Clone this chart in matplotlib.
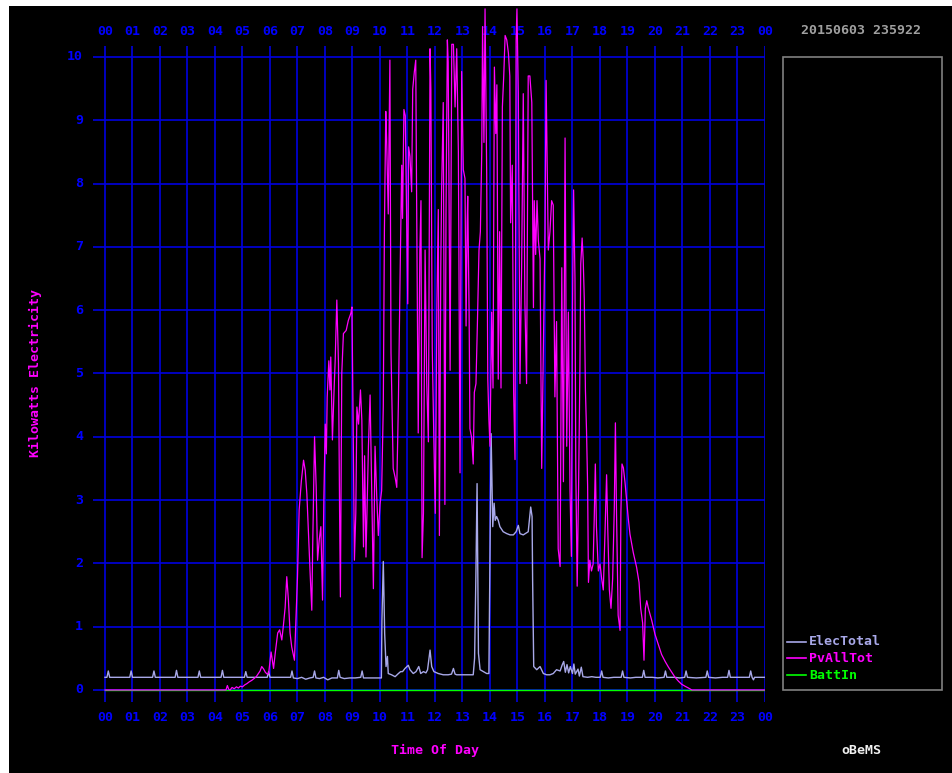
import matplotlib
matplotlib.use("Agg")
import matplotlib.pyplot as plt
from matplotlib.lines import Line2D
from matplotlib.patches import Rectangle

# ---------------- data ----------------
hour_labels = ["00", "01", "02", "03", "04", "05", "06", "07", "08", "09", "10", "11",
               "12", "13", "14", "15", "16", "17", "18", "19", "20", "21", "22", "23", "00"]
y_ticks = [0, 1, 2, 3, 4, 5, 6, 7, 8, 9, 10]

pv_t = [0.00, 4.40, 4.45, 4.50, 4.55, 4.62, 4.70, 4.78, 4.85, 4.92, 5.00, 5.08, 5.16, 5.25,
        5.33, 5.42, 5.50, 5.58, 5.64, 5.70, 5.77, 5.83, 5.90, 5.95, 6.04, 6.09, 6.13, 6.19,
        6.28, 6.35, 6.43, 6.49, 6.55, 6.61, 6.67, 6.73, 6.79, 6.89, 6.95, 7.00, 7.06, 7.14,
        7.22, 7.28, 7.34, 7.40, 7.46, 7.52, 7.55, 7.62, 7.68, 7.73, 7.79, 7.85, 7.91, 7.96,
        8.01, 8.05, 8.08, 8.14, 8.18, 8.21, 8.27, 8.33, 8.37, 8.43, 8.49, 8.53, 8.56, 8.61,
        8.67, 8.77, 8.85, 8.94, 8.98, 9.02, 9.07, 9.12, 9.16, 9.22, 9.29, 9.34, 9.40, 9.44,
        9.49, 9.58, 9.64, 9.70, 9.76, 9.82, 9.88, 9.94, 10.00, 10.06, 10.12, 10.16, 10.21,
        10.24, 10.30, 10.36, 10.40, 10.45, 10.48, 10.55, 10.61, 10.67, 10.73, 10.79, 10.82,
        10.87, 10.92, 10.97, 11.01, 11.04, 11.09, 11.15, 11.19, 11.25, 11.30, 11.33, 11.39,
        11.45, 11.49, 11.53, 11.58, 11.64, 11.70, 11.76, 11.82, 11.85, 11.90, 11.96, 12.01,
        12.07, 12.12, 12.16, 12.21, 12.24, 12.30, 12.36, 12.40, 12.45, 12.48, 12.55, 12.61,
        12.67, 12.73, 12.79, 12.85, 12.91, 12.97, 13.03, 13.09, 13.13, 13.17, 13.19, 13.24,
        13.27, 13.33, 13.39, 13.43, 13.49, 13.54, 13.60, 13.65, 13.70, 13.73, 13.78, 13.82,
        13.88, 13.92, 13.96, 14.00, 14.06, 14.11, 14.16, 14.21, 14.25, 14.30, 14.35, 14.40,
        14.45, 14.50, 14.55, 14.61, 14.67, 14.72, 14.75, 14.81, 14.86, 14.91, 14.95, 14.98,
        15.03, 15.09, 15.15, 15.21, 15.27, 15.33, 15.39, 15.45, 15.52, 15.58, 15.61, 15.66,
        15.71, 15.76, 15.82, 15.88, 15.94, 16.00, 16.04, 16.07, 16.12, 16.18, 16.24, 16.30,
        16.36, 16.42, 16.48, 16.55, 16.61, 16.67, 16.73, 16.79, 16.85, 16.91, 16.96, 17.00,
        17.04, 17.09, 17.12, 17.17, 17.22, 17.27, 17.30, 17.35, 17.39, 17.43, 17.47, 17.51,
        17.55, 17.58, 17.63, 17.69, 17.75, 17.79, 17.83, 17.87, 17.94, 18.00, 18.06, 18.12,
        18.18, 18.24, 18.28, 18.34, 18.40, 18.46, 18.52, 18.56, 18.60, 18.66, 18.73, 18.76,
        18.80, 18.85, 18.91, 18.97, 19.03, 19.09, 19.21, 19.33, 19.42, 19.48, 19.55, 19.60,
        19.65, 19.70, 19.76, 19.88, 20.00, 20.12, 20.24, 20.37, 20.49, 20.61, 20.73, 20.85,
        20.97, 21.09, 21.22, 21.34, 24.00]
pv_v = [0.00, 0.00, 0.07, 0.01, 0.00, 0.04, 0.02, 0.05, 0.03, 0.06, 0.05, 0.08, 0.10, 0.13,
        0.15, 0.18, 0.21, 0.26, 0.30, 0.37, 0.33, 0.28, 0.25, 0.26, 0.60, 0.45, 0.34, 0.58,
        0.90, 0.95, 0.79, 1.03, 1.30, 1.79, 1.42, 0.90, 0.68, 0.47, 1.18, 1.79, 2.84, 3.30,
        3.63, 3.47, 3.10, 2.47, 1.84, 1.26, 2.20, 4.00, 3.20, 2.05, 2.37, 2.58, 1.42, 3.05,
        4.20, 3.73, 4.63, 5.20, 4.74, 5.26, 3.95, 4.74, 5.20, 6.16, 5.16, 2.84, 1.47, 5.00,
        5.63, 5.68, 5.84, 5.95, 6.05, 4.37, 2.05, 2.79, 4.47, 4.20, 4.74, 4.26, 2.26, 3.70,
        2.10, 3.85, 4.66, 3.15, 1.60, 3.85, 3.07, 2.44, 2.93, 3.15, 4.48, 7.24, 9.14,
        8.72, 7.52, 9.95, 5.33, 4.13, 3.50, 3.36, 3.20, 4.56, 6.53, 8.29, 7.45,
        9.17, 9.07, 7.45, 6.10, 8.58, 8.43, 7.87, 9.49, 9.77, 9.95, 7.87, 4.06,
        6.95, 7.73, 2.09, 2.79, 6.95, 4.84, 3.92, 10.13, 9.49, 5.40, 3.92, 2.79,
        6.10, 7.59, 2.44, 6.67, 7.87, 9.28, 2.93, 7.52, 10.27, 9.92, 5.05, 10.20,
        10.20, 9.21, 10.13, 8.50, 3.43, 9.77, 8.22, 8.08, 5.75, 7.40, 7.80, 5.97,
        4.13, 3.99, 3.57, 4.70, 4.84, 5.75, 6.95, 7.24, 8.50, 10.48, 8.65, 10.76,
        8.15, 4.91, 4.27, 3.85, 5.97, 4.77, 9.84, 8.79, 9.56, 4.91, 7.24, 4.77,
        9.21, 9.70, 10.34, 10.27, 10.06, 9.70, 7.38, 8.29, 4.70, 3.64, 10.27, 10.76,
        9.42, 4.84, 6.67, 9.42, 6.10, 4.84, 9.70, 9.70, 9.28, 6.04, 7.73, 6.88,
        7.73, 7.09, 6.81, 3.50, 5.33, 7.24, 9.63, 8.58, 6.95, 7.24, 7.73, 7.66,
        4.63, 5.82, 2.23, 1.95, 6.67, 3.29, 8.72, 3.85, 5.97, 3.15, 2.11, 6.03,
        7.90, 6.50, 3.51, 1.64, 3.16, 5.09, 6.73, 7.14, 6.79, 6.15, 4.74, 4.10,
        3.22, 1.70, 2.05, 1.88, 1.99, 2.70, 3.57, 2.58, 1.88, 1.99, 1.76, 1.58,
        2.46, 3.40, 2.58, 1.58, 1.29, 1.76, 2.87, 4.22, 2.81, 1.18, 0.94, 2.81,
        3.57, 3.51, 3.28, 2.99, 2.70, 2.46, 2.17, 1.94, 1.70, 1.29, 1.06, 0.47,
        1.29, 1.41, 1.29, 1.10, 0.88, 0.72, 0.56, 0.45, 0.36, 0.28, 0.20, 0.14,
        0.09, 0.06, 0.03, 0.00, 0.00]

elec_t = [0.00, 0.07, 0.12, 0.17, 0.90, 0.95, 1.00, 1.73, 1.78, 1.83, 2.55, 2.60, 2.65,
          3.38, 3.43, 3.48, 4.22, 4.27, 4.32, 5.07, 5.12, 5.17, 5.90, 5.95, 6.00, 6.75,
          6.80, 6.85, 7.00, 7.15, 7.30, 7.45, 7.57, 7.62, 7.67, 7.80, 7.95, 8.10, 8.25,
          8.45, 8.50, 8.55, 8.70, 8.90, 9.10, 9.30, 9.35, 9.40, 10.05, 10.07, 10.12, 10.17,
          10.22, 10.27, 10.30, 10.42, 10.55, 10.67, 10.75, 10.82, 10.91, 11.03, 11.09,
          11.21, 11.31, 11.41, 11.48, 11.58, 11.67, 11.73, 11.82, 11.88, 11.96, 12.12,
          12.30, 12.48, 12.60, 12.67, 12.73, 12.79, 13.15, 13.39, 13.44, 13.49, 13.53,
          13.58, 13.64, 13.76, 13.88, 13.96, 14.00, 14.04, 14.07, 14.10, 14.15, 14.19,
          14.24, 14.30, 14.36, 14.48, 14.61, 14.73, 14.85, 14.95, 15.03, 15.09, 15.21,
          15.39, 15.48, 15.53, 15.55, 15.59, 15.70, 15.82, 15.94, 16.06, 16.18, 16.30,
          16.42, 16.55, 16.62, 16.68, 16.74, 16.80, 16.86, 16.92, 17.00, 17.05, 17.10,
          17.20, 17.25, 17.32, 17.38, 17.55, 17.70, 17.85, 18.01, 18.06, 18.11, 18.30,
          18.50, 18.77, 18.82, 18.87, 19.10, 19.30, 19.54, 19.59, 19.64, 19.90, 20.10,
          20.33, 20.38, 20.43, 20.70, 20.90, 21.08, 21.13, 21.18, 21.50, 21.85, 21.90,
          21.95, 22.20, 22.45, 22.64, 22.69, 22.74, 23.05, 23.30, 23.43, 23.48, 23.53,
          23.58, 23.62, 24.00]
elec_v = [0.20, 0.20, 0.30, 0.20, 0.20, 0.30, 0.20, 0.20, 0.30, 0.20, 0.20, 0.31, 0.20,
          0.20, 0.30, 0.20, 0.20, 0.31, 0.20, 0.20, 0.29, 0.20, 0.20, 0.29, 0.20, 0.20,
          0.30, 0.19, 0.18, 0.20, 0.17, 0.19, 0.20, 0.30, 0.19, 0.18, 0.20, 0.16, 0.19,
          0.19, 0.31, 0.20, 0.18, 0.19, 0.19, 0.20, 0.30, 0.19, 0.19, 1.10, 2.03, 0.89,
          0.37, 0.53, 0.26, 0.24, 0.21, 0.26, 0.29, 0.29, 0.34, 0.39, 0.32,
          0.26, 0.29, 0.37, 0.26, 0.29, 0.27, 0.32, 0.63, 0.37, 0.29, 0.26,
          0.24, 0.24, 0.25, 0.34, 0.25, 0.24, 0.24, 0.24, 0.50, 1.89, 3.26,
          0.58, 0.32, 0.29, 0.26, 0.26, 2.16, 4.05, 3.32, 2.58, 2.95, 2.68,
          2.74, 2.68, 2.58, 2.50, 2.47, 2.45, 2.45, 2.50, 2.60, 2.47, 2.45,
          2.50, 2.89, 2.74, 1.74, 0.37, 0.32, 0.37, 0.26, 0.24, 0.24, 0.26,
          0.32, 0.30, 0.39, 0.45, 0.28, 0.40, 0.27, 0.37, 0.26, 0.41, 0.25,
          0.33, 0.22, 0.36, 0.21, 0.20, 0.21, 0.20, 0.20, 0.30, 0.20, 0.19,
          0.20, 0.20, 0.30, 0.20, 0.19, 0.20, 0.20, 0.31, 0.20, 0.20, 0.19,
          0.20, 0.30, 0.20, 0.20, 0.19, 0.20, 0.30, 0.20, 0.19, 0.20, 0.30,
          0.20, 0.19, 0.20, 0.20, 0.31, 0.20, 0.20, 0.20, 0.20, 0.30, 0.20,
          0.16, 0.20, 0.20]

batt_t = [0.0, 24.0]
batt_v = [0.0, 0.0]

series_names = ["ElecTotal", "PvAllTot", "BattIn"]
series_colors = ["#A8A8E8", "#FF00FF", "#00FF00"]
stamp = "20150603 235922"

# ---------------- figure ----------------
W, H = 952, 773
fig = plt.figure(figsize=(W / 100, H / 100), dpi=100, facecolor="white")
fig.patches.append(Rectangle((9 / W, 0), 1 - 9 / W, 1 - 6 / H, transform=fig.transFigure,
                             facecolor="black", edgecolor="none", zorder=-10))

def fx(px):
    return px / W

def fy(py):
    return 1 - py / H

# axes: x from px 93 (h=-0.436) to 765 (h=24); y from py 702 (v=-0.19) to py 0
ax = fig.add_axes([fx(93), fy(702), fx(765) - fx(93), fy(0) - fy(702)])
ax.set_xlim(-0.436, 24)
ax.set_ylim(-0.19, 10.9)
ax.set_facecolor("none")
ax.axis("off")

grid_c = "#0000E0"
for v in y_ticks:
    ax.plot([-0.436, 24], [v, v], color=grid_c, lw=1.2, zorder=1, solid_capstyle="butt")
for h in range(25):
    ax.plot([h, h], [-0.19, 10.18], color=grid_c, lw=1.2, zorder=1, solid_capstyle="butt")

ax.plot(elec_t, elec_v, color=series_colors[0], lw=1.0, zorder=3)
ax.plot(batt_t, batt_v, color=series_colors[2], lw=1.0, zorder=4)
ax.plot(pv_t, pv_v, color=series_colors[1], lw=0.9, zorder=5)

font = dict(family="DejaVu Sans Mono", fontweight="bold", fontsize=9.5)
lab_c = "#0000FF"
for i, lab in enumerate(hour_labels):
    ax.text(i, 10.41, lab, color=lab_c, ha="center", va="center", **font)
    ax.text(i, -0.43, lab, color=lab_c, ha="center", va="center", clip_on=False, **font)
for v in y_ticks:
    ax.text(-0.80, v, str(v), color=lab_c, ha="right", va="center", **font)

fig.text(fx(35), fy(373), "Kilowatts Electricity", rotation=90, color="#FF00FF",
         ha="center", va="center", **font)
fig.text(fx(435), fy(750), "Time Of Day", color="#FF00FF", ha="center", va="center", **font)
fig.text(fx(861), fy(750), "oBeMS", color="#F0F0F0", ha="center", va="center", **font)
fig.text(fx(861), fy(31), stamp, color="#A0A0A0", ha="center", va="center", **font)

# legend box
fig.patches.append(Rectangle((fx(783), fy(690)), fx(942) - fx(783), fy(57) - fy(690),
                             transform=fig.transFigure, facecolor="none",
                             edgecolor="#808080", lw=1.2))
for name, col, py in zip(series_names, series_colors, [641.7, 658.3, 675.3]):
    fig.lines.append(Line2D([fx(787), fx(806)], [fy(py), fy(py)], color=col, lw=1.2,
                            transform=fig.transFigure))
    fig.text(fx(809), fy(py), name, color=col, ha="left", va="center", **font)

fig.savefig("out.png", dpi=100, facecolor=fig.get_facecolor())
